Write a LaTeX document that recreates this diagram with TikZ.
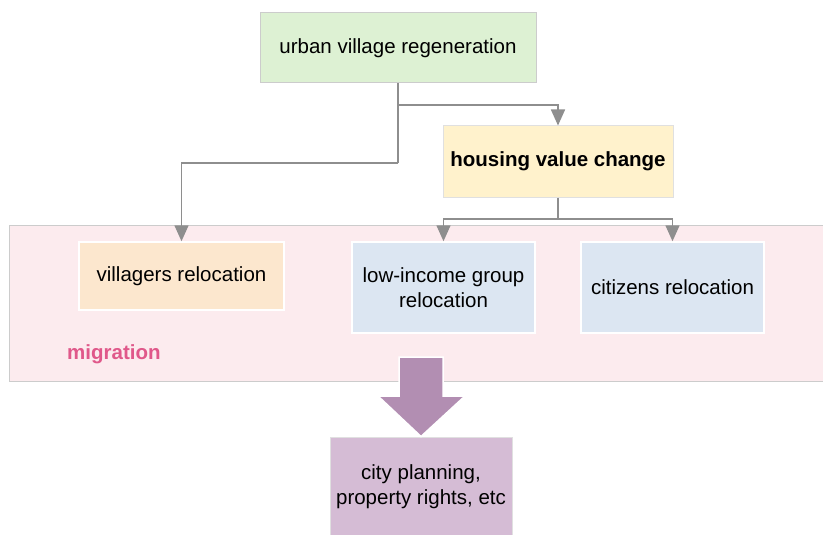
\documentclass[tikz,border=0pt]{standalone}
\usepackage{fontspec}
\setmainfont{Liberation Sans}
\usetikzlibrary{arrows.meta}
\definecolor{lgreen}{HTML}{DDF1D3}
\definecolor{lyellow}{HTML}{FFF2CC}
\definecolor{lorange}{HTML}{FCE7CE}
\definecolor{lblue}{HTML}{DCE6F2}
\definecolor{lpink}{HTML}{FCEBEE}
\definecolor{lpurple}{HTML}{D5BCD5}
\definecolor{mpurple}{HTML}{B28EB2}
\definecolor{pinktext}{HTML}{E0588A}
\definecolor{linegray}{HTML}{8E8E8E}
\definecolor{bordergray}{HTML}{CCCCCC}
\begin{document}
\begin{tikzpicture}[x=1pt,y=1pt,
  box/.style={rectangle,draw=white,line width=1.5pt,align=center,
    font=\fontsize{20.5}{25}\selectfont,inner sep=0pt},
  conn/.style={draw=linegray,line width=1.6pt},
  tip/.style={-{Triangle[width=14pt,length=16pt]},conn}]
\useasboundingbox (0,0) rectangle (823,-535);
% container
\node[rectangle,draw=bordergray,line width=1pt,fill=lpink,minimum width=830pt,minimum height=156pt,anchor=north west,inner sep=0pt] (mig) at (9,-225) {};
\node[font=\fontsize{20.5}{25}\selectfont\bfseries,text=pinktext,anchor=west,inner sep=0pt] (migl) at (67,-354) {migration};
% nodes
\node[box,draw=bordergray,line width=1pt,fill=lgreen,minimum width=276pt,minimum height=70pt] (urban) at (398,-48) {urban village regeneration};
\node[box,draw=bordergray!60,line width=1pt,fill=lyellow,minimum width=230pt,minimum height=71pt,font=\fontsize{20.5}{25}\selectfont\bfseries] (housing) at (558,-161.5) {housing value change};
\node[box,fill=lorange,minimum width=205pt,minimum height=68pt] (vill) at (181.5,-276) {villagers relocation};
\node[box,fill=lblue,minimum width=183pt,minimum height=91pt] (low) at (443.5,-287.5) {low-income group\\relocation};
\node[box,fill=lblue,minimum width=183pt,minimum height=91pt] (cit) at (672.5,-287.5) {citizens relocation};
\node[box,draw=bordergray!60,line width=1pt,fill=lpurple,minimum width=182pt,minimum height=100pt] (city) at (421,-487) {city planning,\\property rights, etc};
% big arrow
\draw[fill=mpurple,draw=white,line width=1.5pt]
  (399,-357) -- (443,-357) -- (443,-396) -- (465,-396) -- (city.north) -- (378,-396) -- (399,-396) -- cycle;
% connectors
\coordinate (j1) at (398,-105);
\coordinate (j2) at (398,-163);
\coordinate (j3) at (558,-219);
\draw[conn] (urban.south) -- (j2);
\draw[tip] (j1) -| (housing.north);
\draw[tip] (j2) -| (vill.north);
\draw[conn] (housing.south) -- (j3);
\draw[tip] (j3) -| (low.north);
\draw[tip] (j3) -| (cit.north);
\end{tikzpicture}
\end{document}
